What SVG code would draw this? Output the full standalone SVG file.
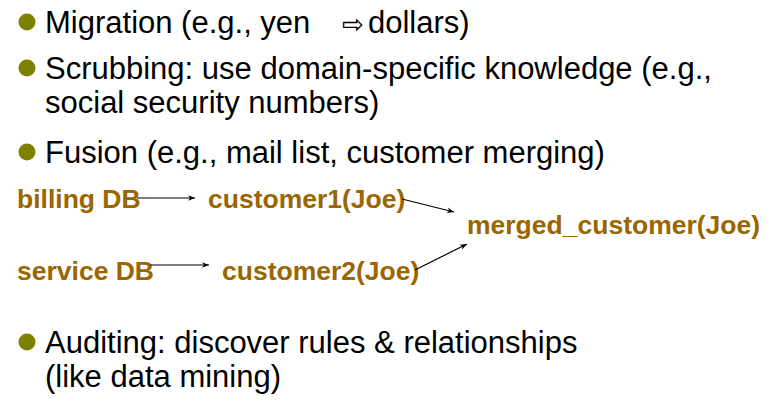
<svg xmlns="http://www.w3.org/2000/svg" width="776" height="401" viewBox="0 0 776 401">
  <style>
    .body { font-family: "Liberation Sans", Arial, sans-serif; font-size: 31px; fill: #000; }
    .sym { font-family: "DejaVu Sans", sans-serif; font-size: 26px; fill: #000; }
    .node { font-family: "Liberation Sans", Arial, sans-serif; font-size: 26.5px; font-weight: bold; fill: #996600; }
    .dot { fill: #808000; }
    .conn { stroke: #000; stroke-width: 1.2; fill: none; marker-end: url(#head); }
  </style>
  <defs>
    <marker id="head" viewBox="0 0 10 10" refX="10" refY="5" markerWidth="7" markerHeight="7" markerUnits="userSpaceOnUse" orient="auto">
      <path d="M0,1 L10,5 L0,9 L3,5 Z" fill="#000"/>
    </marker>
  </defs>
  <rect width="776" height="401" fill="#fff"/>

  <!-- bullet list -->
  <g id="bullets">
    <circle class="dot" cx="27" cy="22" r="8.5"/>
    <text class="body" x="45" y="33">Migration (e.g., yen<tspan class="sym" x="342" y="33">⇨</tspan><tspan x="368" y="33">dollars)</tspan></text>
    <circle class="dot" cx="27" cy="68" r="8.5"/>
    <text class="body" x="45" y="79">Scrubbing: use domain-specific knowledge (e.g.,</text>
    <text class="body" x="45" y="113">social security numbers)</text>
    <circle class="dot" cx="27" cy="152" r="8.5"/>
    <text class="body" x="45" y="163">Fusion (e.g., mail list, customer merging)</text>
    <circle class="dot" cx="27" cy="342" r="8.5"/>
    <text class="body" x="45" y="353">Auditing: discover rules &amp; relationships</text>
    <text class="body" x="45" y="387">(like data mining)</text>
  </g>

  <!-- fusion example -->
  <g id="billing-db"><text class="node" x="17" y="208">billing DB</text></g>
  <g id="service-db"><text class="node" x="17" y="280">service DB</text></g>
  <g id="customer1"><text class="node" x="208" y="208">customer1(Joe)</text></g>
  <g id="customer2"><text class="node" x="222" y="280">customer2(Joe)</text></g>
  <g id="merged-customer"><text class="node" x="467" y="234">merged_customer(Joe)</text></g>

  <g id="connectors">
    <line class="conn" x1="137" y1="198" x2="195" y2="198"/>
    <line class="conn" x1="150" y1="265" x2="209" y2="265"/>
    <line class="conn" x1="402" y1="199" x2="454" y2="212"/>
    <line class="conn" x1="415" y1="270" x2="467" y2="244"/>
  </g>
</svg>
